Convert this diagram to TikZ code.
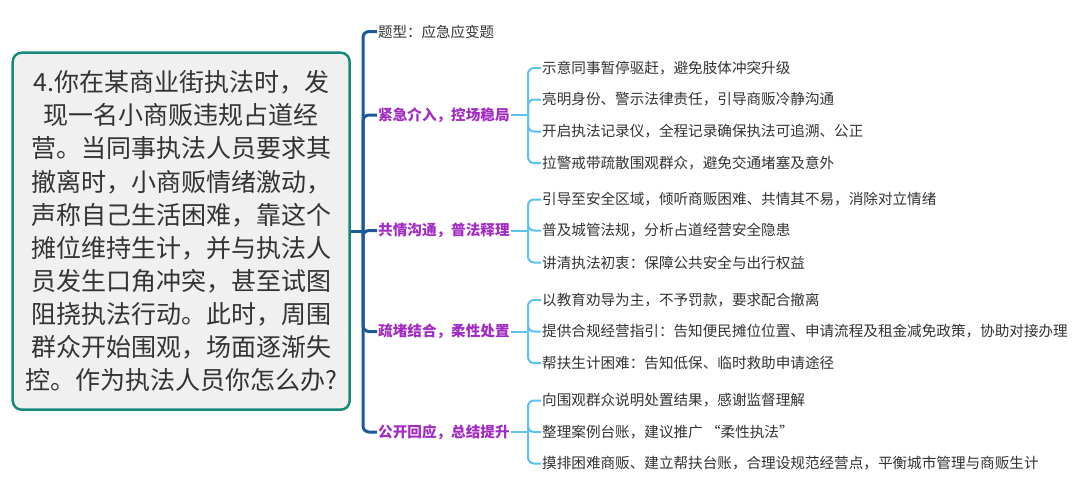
\documentclass[tikz,border=0pt]{standalone}
\usepackage{fontspec}
\setmainfont{Noto Sans CJK SC}
\definecolor{rootc}{HTML}{178A7C}
\definecolor{rootfill}{HTML}{F0F0F0}
\definecolor{txt}{HTML}{333333}
\definecolor{purp}{HTML}{A22BC4}
\definecolor{spinec}{HTML}{1B5A96}
\definecolor{twigc}{HTML}{5CC3EE}
\begin{document}
\begin{tikzpicture}[x=1pt,y=-1pt,
  root/.style={draw=rootc, fill=rootfill, line width=2.5pt, rounded corners=9pt,
    minimum width=337pt, minimum height=357pt, align=center, inner sep=0pt,
    font=\fontsize{25}{33.1}\selectfont, text=txt},
  lvl/.style={anchor=west, inner sep=1pt, font=\fontsize{14.6}{17}\selectfont\bfseries, text=purp},
  ttl/.style={anchor=west, inner sep=1pt, font=\fontsize{14.5}{17}\selectfont, text=txt},
  leaf/.style={anchor=west, inner sep=1pt, font=\fontsize{14.6}{17}\selectfont, text=txt},
  spine/.style={draw=spinec, line width=3pt, rounded corners=6pt},
  twig/.style={draw=twigc, line width=2pt, rounded corners=6pt}]
\useasboundingbox[fill=white] (0,0) rectangle (1080,488);

\node[root] (root) at (181.2,231.2) {4.你在某商业街执法时，发\\现一名小商贩违规占道经\\营。当同事执法人员要求其\\撤离时，小商贩情绪激动，\\声称自己生活困难，靠这个\\摊位维持生计，并与执法人\\员发生口角冲突，甚至试图\\阻挠执法行动。此时，周围\\群众开始围观，场面逐渐失\\控。作为执法人员你怎么办?};

\coordinate (J) at (363,231.2);

\node[ttl] (t0) at (377,31.5) {题型：应急应变题};
\node[lvl] (l1) at (377,115) {紧急介入，控场稳局};
\node[lvl] (l2) at (377,230.5) {共情沟通，普法释理};
\node[lvl] (l3) at (377,331.5) {疏堵结合，柔性处置};
\node[lvl] (l4) at (377,432) {公开回应，总结提升};

\draw[spine] (root.east) -- (J);
\foreach \n in {t0,l1,l2,l3,l4} { \draw[spine] (J) |- (\n.west); }

\coordinate (g1) at (528,115);
\coordinate (g2) at (528,230.5);
\coordinate (g3) at (528,331.5);
\coordinate (g4) at (528,432);

\node[leaf] (a1) at (541,68) {示意同事暂停驱赶，避免肢体冲突升级};
\node[leaf] (a2) at (541,99.5) {亮明身份、警示法律责任，引导商贩冷静沟通};
\node[leaf] (a3) at (541,131.5) {开启执法记录仪，全程记录确保执法可追溯、公正};
\node[leaf] (a4) at (541,163) {拉警戒带疏散围观群众，避免交通堵塞及意外};

\node[leaf] (b1) at (541,199.5) {引导至安全区域，倾听商贩困难、共情其不易，消除对立情绪};
\node[leaf] (b2) at (541,230.5) {普及城管法规，分析占道经营安全隐患};
\node[leaf] (b3) at (541,262.5) {讲清执法初衷：保障公共安全与出行权益};

\node[leaf] (c1) at (541,300) {以教育劝导为主，不予罚款，要求配合撤离};
\node[leaf] (c2) at (541,331.5) {提供合规经营指引：告知便民摊位位置、申请流程及租金减免政策，协助对接办理};
\node[leaf] (c3) at (541,363) {帮扶生计困难：告知低保、临时救助申请途径};

\node[leaf] (d1) at (541,400.5) {向围观群众说明处置结果，感谢监督理解};
\node[leaf] (d2) at (541,432) {整理案例台账，建议推广 “柔性执法”};
\node[leaf] (d3) at (541,463.5) {摸排困难商贩、建立帮扶台账，合理设规范经营点，平衡城市管理与商贩生计};

\draw[twig] (l1.east) -- (g1);
\draw[twig] (l2.east) -- (g2);
\draw[twig] (l3.east) -- (g3);
\draw[twig] (l4.east) -- (g4);
\foreach \n in {a1,a2,a3,a4} { \draw[twig] (g1) |- (\n.west); }
\foreach \n in {b1,b2,b3} { \draw[twig] (g2) |- (\n.west); }
\foreach \n in {c1,c2,c3} { \draw[twig] (g3) |- (\n.west); }
\foreach \n in {d1,d2,d3} { \draw[twig] (g4) |- (\n.west); }
\end{tikzpicture}
\end{document}
